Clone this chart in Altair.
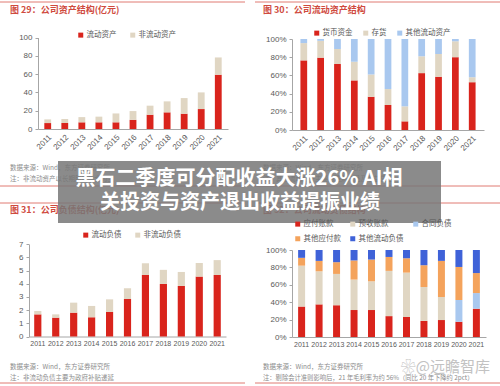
import altair as alt
import pandas as pd

FONT = "Liberation Sans, Noto Sans CJK SC"
CJK = "Noto Sans CJK SC"

years = [str(y) for y in range(2011, 2022)]

# 图29 公司资产结构（亿元）
asset_series = ["流动资产", "非流动资产"]
current_assets = [6.5, 6.5, 7.3, 7.3, 7.3, 10.0, 15.6, 18.2, 16.7, 21.8, 59.3]
noncurrent_assets = [4.0, 4.5, 5.7, 6.2, 9.7, 9.6, 9.9, 12.0, 17.1, 18.2, 18.9]

# 图30 公司流动资产结构（%）
ca_series = ["货币资金", "存货", "其他流动资产"]
cash_pct = [76.5, 79.5, 72.5, 54.5, 36.5, 27.5, 9.5, 62.5, 58.5, 80.0, 52.5]
inventory_pct = [19.0, 18.5, 16.5, 20.5, 24.5, 17.5, 16.5, 18.5, 25.0, 17.5, 5.5]
other_ca_pct = [4.5, 2.0, 11.0, 25.0, 39.0, 55.0, 74.0, 19.0, 16.5, 2.5, 42.0]

# 图31 公司负债结构（亿元）
liab_series = ["流动负债", "非流动负债"]
current_liab = [1.68, 1.43, 1.81, 1.46, 1.86, 2.85, 4.67, 3.99, 3.84, 4.55, 4.67]
noncurrent_liab = [0.26, 0.25, 0.76, 0.86, 0.96, 0.81, 0.89, 1.07, 1.06, 1.03, 1.13]

# 图32 公司流动负债结构（%）
cl_series = ["应付账款", "预收账款", "合同负债", "其他应付款", "其他流动负债"]
payables_pct = [35.0, 37.5, 36.5, 31.0, 31.0, 24.0, 23.0, 18.5, 19.5, 17.5, 32.5]
advances_pct = [47.0, 38.0, 36.0, 35.0, 33.0, 52.0, 51.0, 39.0, 26.5, 0.0, 0.0]
contract_pct = [0, 0, 0, 0, 0, 0, 0, 0, 0, 25.0, 18.0]
other_pay_pct = [9.0, 12.0, 13.5, 22.0, 25.0, 16.0, 16.5, 25.0, 41.5, 38.0, 23.0]
other_cl_pct = [9.0, 12.5, 14.0, 12.0, 11.0, 8.0, 9.5, 17.5, 12.5, 19.5, 26.5]

RED = "#d9241c"
BEIGE = "#e0d6c3"
LIGHT_BLUE = "#a9c8ef"
ORANGE = "#f4a35c"
BLUE = "#3f62d8"
LINE_RED = "#e07a72"
GREY_TEXT = "#8c8c8c"
TITLE_RED = "#cf4a3e"

W, H = 500, 386


def long_table(names, columns):
    rows = []
    for k, (name, vals) in enumerate(zip(names, columns)):
        for yr, v in zip(years, vals):
            rows.append({"year": yr, "series": name, "value": v, "k": k})
    return pd.DataFrame(rows)


def stacked_panel(df, names, colors, xr, pad_outer, yr, ydomain, yvalues,
                  yformat, normalize, label_angle, x_label_size, legend):
    x = alt.X(
        "year:N", title=None,
        scale=alt.Scale(range=xr, paddingInner=0.6, paddingOuter=pad_outer),
        axis=alt.Axis(orient="bottom", offset=yr[0] - H, labelAngle=label_angle,
                      labelFontSize=x_label_size, ticks=False, labelOverlap=False,
                      labelPadding=3 if label_angle == 0 else 4),
    )
    y = alt.Y(
        "value:Q", title=None, stack="normalize" if normalize else "zero",
        scale=alt.Scale(domain=ydomain, range=yr, nice=False),
        axis=alt.Axis(orient="left", offset=-xr[0], values=yvalues, format=yformat,
                      grid=False, tickSize=3, labelPadding=3),
    )
    color = alt.Color("series:N", title=None,
                      scale=alt.Scale(domain=names, range=colors),
                      legend=legend)
    return alt.Chart(df).mark_bar().encode(
        x=x, y=y, color=color, order=alt.Order("k:Q", sort="ascending"),
    )


def make_legend(lx, ly, columns=None, column_padding=10):
    opts = dict(orient="none", legendX=lx, legendY=ly, direction="horizontal",
                symbolType="square", symbolSize=25, symbolStrokeWidth=0,
                labelFontSize=7.5, labelColor="#595959", labelFont=CJK,
                labelOffset=2, columnPadding=column_padding, rowPadding=6, padding=0)
    if columns:
        opts["columns"] = columns
    return alt.Legend(**opts)


def label(text, x, y, size=6.5, color=GREY_TEXT, weight="normal", align="left", font=CJK):
    return alt.Chart(pd.DataFrame({"t": [text]})).mark_text(
        align=align, baseline="middle", fontSize=size, color=color,
        fontWeight=weight, font=font,
    ).encode(x=alt.value(x), y=alt.value(y), text="t:N")


def hline(x1, x2, y, color=LINE_RED):
    return alt.Chart(pd.DataFrame({"t": [0]})).mark_rule(color=color, strokeWidth=1).encode(
        x=alt.value(x1), x2=alt.value(x2), y=alt.value(y))


assets = long_table(asset_series, [current_assets, noncurrent_assets])
ca = long_table(ca_series, [cash_pct, inventory_pct, other_ca_pct])
liab = long_table(liab_series, [current_liab, noncurrent_liab])
cl = long_table(cl_series, [payables_pct, advances_pct, contract_pct, other_pay_pct, other_cl_pct])

p1 = stacked_panel(assets, asset_series, [RED, BEIGE], [38, 228], 0.37, [129, 37.5],
                   [0, 100], [0, 20, 40, 60, 80, 100], "d", False, -45, 8,
                   make_legend(77, 31, column_padding=12))
p2 = stacked_panel(ca, ca_series, [RED, BEIGE, LIGHT_BLUE], [292, 484], 0.5, [130, 39],
                   [0, 1], [0, 0.2, 0.4, 0.6, 0.8, 1.0], ".0%", True, -45, 8,
                   make_legend(313, 29, column_padding=9))
p3 = stacked_panel(liab, liab_series, [RED, BEIGE], [29, 226], 0.29, [336.5, 244.3],
                   [0, 7], [0, 1, 2, 3, 4, 5, 6, 7], "d", False, 0, 7,
                   make_legend(82, 231, column_padding=12))
p4 = stacked_panel(cl, cl_series, [RED, BEIGE, LIGHT_BLUE, ORANGE, BLUE], [292, 486], 0.35,
                   [337, 250], [0, 1], [0, 0.2, 0.4, 0.6, 0.8, 1.0], ".0%", True, 0, 7,
                   make_legend(294, 220, columns=3, column_padding=8))

decor = [
    hline(0, 245, 2), hline(255, 500, 2),
    hline(0, 245, 186), hline(255, 500, 186),
    hline(0, 245, 203), hline(255, 500, 203),
    hline(0, 245, 383), hline(255, 500, 383),
    label("图 29：公司资产结构(亿元)", 10, 10, 9, TITLE_RED, "bold"),
    label("图 30：公司流动资产结构", 263, 10, 9, TITLE_RED, "bold"),
    label("图 31：公司负债结构(亿元)", 10, 210, 9, TITLE_RED, "bold"),
    label("图 32：公司流动负债结构", 263, 210, 9, TITLE_RED, "bold"),
    label("数据来源：Wind，东方证券研究所", 10, 168),
    label("注：非流动资产以长期股权投资为主", 10, 179),
    label("数据来源：Wind，东方证券研究所", 263, 168),
    label("注：其他流动资产主要为理财产品及收益凭证", 263, 179),
    label("数据来源：Wind，东方证券研究所", 10, 367),
    label("注：非流动负债主要为政府补贴递延", 10, 378),
    label("数据来源：Wind，东方证券研究所", 263, 367),
    label("注：剔除会计准则影响后，21 年毛利率为约 56%（同比 20 年下降约 2pct）", 263, 378, 6.3),
    label("❀@远瞻智库", 490, 367, 15, "#c2c2c2", "normal", "right", "Noto Sans CJK SC, DejaVu Sans"),
]

banner = alt.Chart(pd.DataFrame({"t": [0]})).mark_rect(color="#777777", opacity=0.85).encode(
    x=alt.value(58), x2=alt.value(441), y=alt.value(161), y2=alt.value(223))

headline = [
    label("黑石二季度可分配收益大涨26% AI相", 239, 179, 20, "white", "bold", "center", CJK),
    label("关投资与资产退出收益提振业绩", 240, 203, 20, "white", "bold", "center", CJK),
]

chart = alt.layer(p1, p2, p3, p4, *decor, banner, *headline).resolve_scale(
    x="independent", y="independent", color="independent"
).properties(
    width=W, height=H, autosize=alt.AutoSizeParams(type="none"), padding=0,
    background="white",
).configure_view(stroke=None).configure_axis(
    labelFont=FONT, labelColor="#595959", labelFontSize=8,
    domainColor="#a6a6a6", tickColor="#a6a6a6",
)

chart.save("out.html", embed_options={"renderer": "svg", "actions": False})
